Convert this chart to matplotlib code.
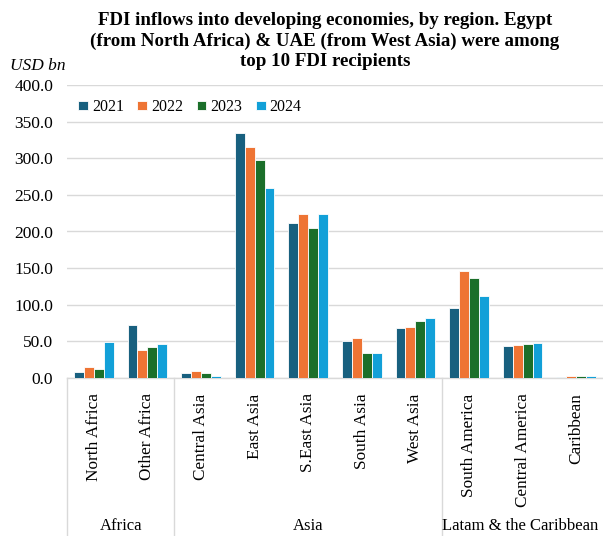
import matplotlib
matplotlib.use("Agg")
import matplotlib.pyplot as plt
import numpy as np

categories = ["North Africa", "Other Africa", "Central Asia", "East Asia", "S.East Asia",
              "South Asia", "West Asia", "South America", "Central America", "Caribbean"]
groups = ["Africa", "Asia", "Latam & the Caribbean"]
group_sizes = [2, 5, 3]
years = ["2021", "2022", "2023", "2024"]
v2021 = [8.2, 72.3, 6.4, 334.0, 211.0, 50.5, 68.6, 95.5, 44.0, 1.8]
v2022 = [14.5, 38.6, 9.1, 316.0, 224.5, 55.0, 69.5, 146.4, 45.5, 2.7]
v2023 = [12.7, 41.8, 6.8, 297.0, 205.0, 34.0, 77.7, 136.4, 46.4, 2.7]
v2024 = [49.5, 46.4, 2.7, 259.0, 224.5, 34.0, 81.4, 111.4, 48.2, 3.2]
series = [v2021, v2022, v2023, v2024]
colors = ["#18607F", "#EE7434", "#1B6F2A", "#12A0D8"]

W, H = 603, 536
fig = plt.figure(figsize=(W / 100, H / 100), dpi=100)
serif = ["Liberation Serif", "DejaVu Serif"]

left, right, top, bottom = 67, 603, 85, 378
ax = fig.add_axes([left / W, (H - bottom) / H, (right - left) / W, (bottom - top) / H])

x = np.arange(len(categories))
bw = 0.185
for i, (vals, c, yr) in enumerate(zip(series, colors, years)):
    ax.bar(x + (i - 1.5) * bw, vals, width=bw, color=c, edgecolor="white",
           linewidth=0.6, label=yr, zorder=3)

ax.set_xlim(-0.5, len(categories) - 0.5)
ax.set_ylim(0, 400)
ax.set_yticks(np.arange(0, 401, 50))
ax.set_yticklabels([f"{v:.1f}" for v in np.arange(0, 401, 50)], fontfamily=serif, fontsize=12.5)
ax.yaxis.grid(True, color="#D9D9D9", linewidth=1.0, zorder=0)
ax.tick_params(axis="y", length=0, pad=10)
for s in ["top", "right", "left"]:
    ax.spines[s].set_visible(False)
ax.spines["bottom"].set_color("#D9D9D9")
ax.spines["bottom"].set_linewidth(1.0)

ax.set_xticks(x)
ax.set_xticklabels(categories, rotation=90, fontfamily=serif, fontsize=12.4, va="top", ha="center")
ax.tick_params(axis="x", length=0, pad=11)

# group separators
trans = ax.get_xaxis_transform()
ybot = -(H - bottom) / (bottom - top)
bounds = np.concatenate([[0], np.cumsum(group_sizes)]) - 0.5
for b in bounds[:-1]:
    ax.plot([b, b], [0, ybot], transform=trans, color="#D9D9D9", linewidth=1.0, clip_on=False)
ygl = -(526 - bottom) / (bottom - top)
for k, (g, a, b) in enumerate(zip(groups, bounds[:-1], bounds[1:])):
    xc = (a + b) / 2
    if k == len(groups) - 1:
        xc -= 0.04
    ax.text(xc, ygl, g, transform=trans, ha="center", va="center",
            fontfamily=serif, fontsize=12)

leg = ax.legend(loc="upper left", bbox_to_anchor=(0.0, 0.99), ncol=4, frameon=False,
                prop={"family": serif, "size": 11.5}, handlelength=0.6, handleheight=0.55,
                handletextpad=0.25, columnspacing=0.86, borderaxespad=0.3)

fig.text(10 / W, 1 - 66 / H, "USD bn", fontfamily=serif, fontstyle="italic", fontsize=12.5,
         ha="left", va="center")
fig.text(325 / W, 1 - 41 / H,
         "FDI inflows into developing economies, by region. Egypt\n(from North Africa) & UAE (from West Asia) were among\ntop 10 FDI recipients",
         fontfamily=serif, fontweight="bold", fontsize=13.6, ha="center", va="center",
         linespacing=1.28)

fig.savefig("out.png", dpi=100)
